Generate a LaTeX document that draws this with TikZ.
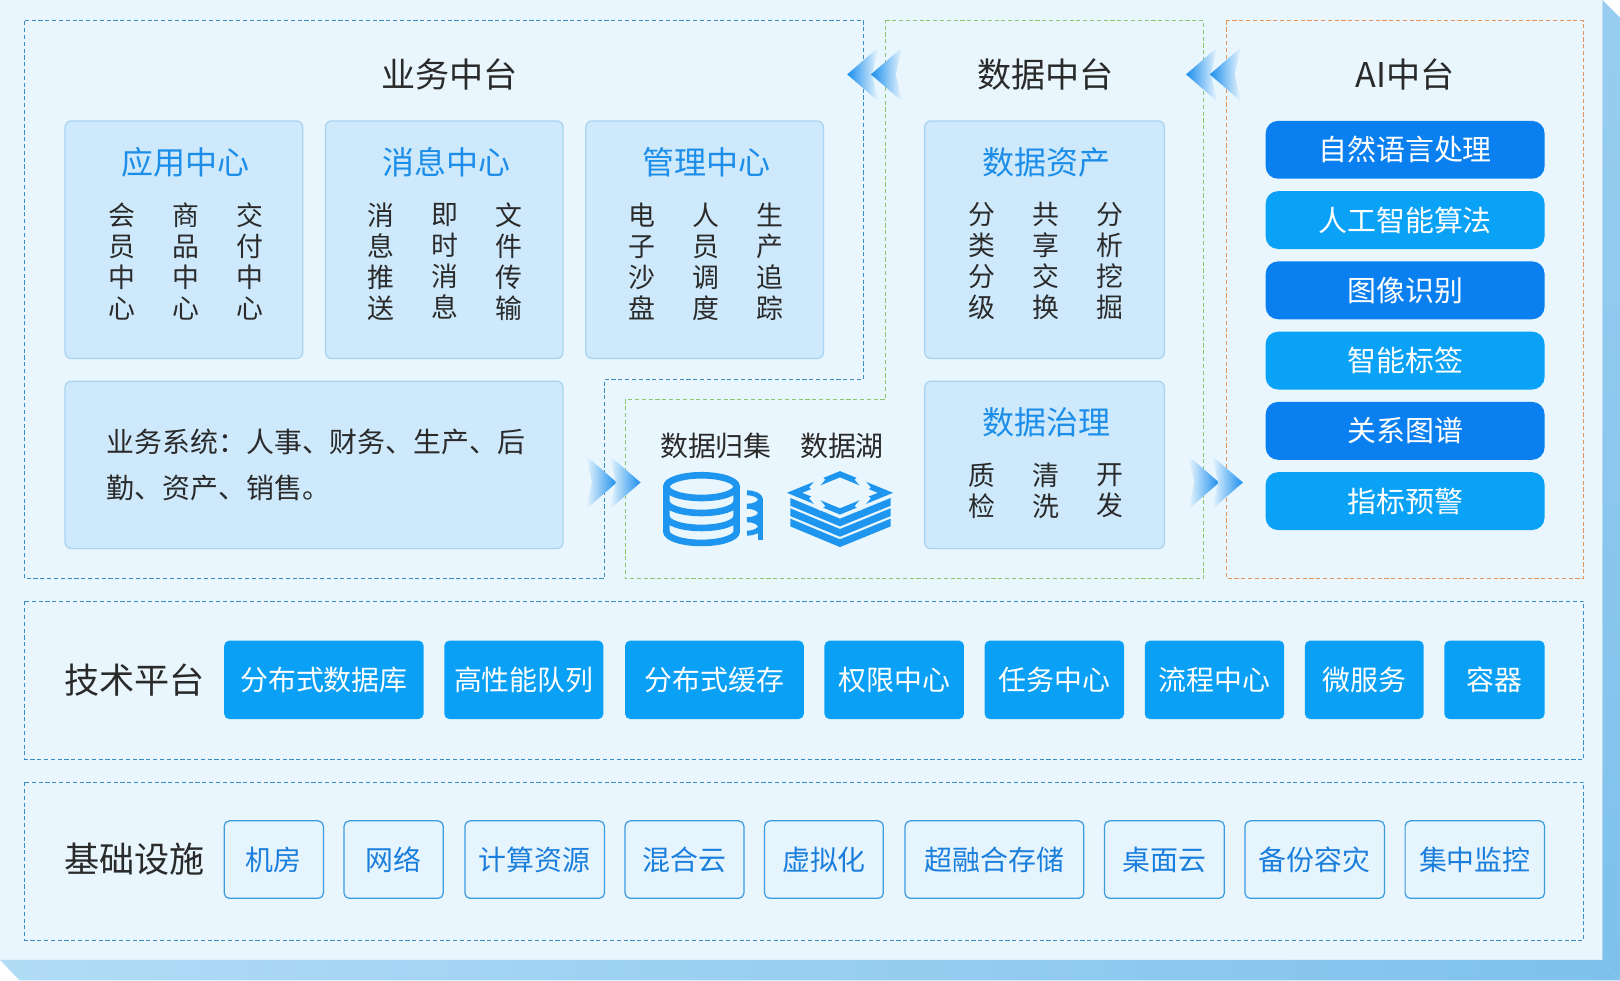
\documentclass[tikz,border=0pt]{standalone}
\usepackage{fontspec}
\setmainfont{Noto Sans CJK SC}
\definecolor{panel}{HTML}{EAF6FD}
\definecolor{subfill}{HTML}{CDE9FB}
\definecolor{subline}{HTML}{A9D3F1}
\definecolor{ttl}{HTML}{1C8EEA}
\definecolor{txt}{HTML}{2A2A2A}
\definecolor{dblue}{HTML}{3C8CC4}
\definecolor{dgreen}{HTML}{8CC66A}
\definecolor{dorange}{HTML}{E3945A}
\definecolor{aiA}{HTML}{0A80F0}
\definecolor{aiB}{HTML}{09A2F6}
\definecolor{tech}{HTML}{09A0F5}
\definecolor{infline}{HTML}{3C9CE0}
\definecolor{inffill}{HTML}{E6F4FE}
\definecolor{inftxt}{HTML}{1A7EDC}
\definecolor{ib}{HTML}{1E96F0}
\definecolor{arr}{HTML}{1A8EEE}
\definecolor{sideR}{HTML}{7EC1EC}
\definecolor{sideB}{HTML}{B2DCF6}
\newcommand\chevL[2]{\shade[left color=arr,right color=panel] (#1,#2) -- (#1+30,#2-26) -- (#1+24,#2) -- (#1+30,#2+26) -- cycle;}
\newcommand\chevR[2]{\shade[right color=arr,left color=panel] (#1,#2) -- (#1-30,#2-26) -- (#1-24,#2) -- (#1-30,#2+26) -- cycle;}
\begin{document}
\begin{tikzpicture}[x=0.5pt,y=-0.5pt,
  sub/.style={draw=subline,fill=subfill,rounded corners=3pt,line width=0.6pt,inner sep=0pt},
  boxtitle/.style={text=ttl,font=\fontsize{15.5}{17}\selectfont,inner sep=0pt},
  col/.style={align=center,text=txt,font=\fontsize{13}{15}\selectfont,inner sep=0pt},
  maintitle/.style={text=txt,font=\fontsize{16.5}{18}\selectfont,inner sep=0pt},
  rowlabel/.style={text=txt,font=\fontsize{17}{18}\selectfont,inner sep=0pt},
  dashline/.style={line width=0.55pt,dash pattern=on 2pt off 1.3pt},
  aibtn/.style={rounded corners=6pt,minimum width=135pt,minimum height=28pt,inner sep=0pt,text=white,font=\fontsize{14}{16}\selectfont},
  techbtn/.style={fill=tech,rounded corners=2.5pt,minimum height=38pt,inner sep=0pt,text=white,font=\fontsize{13.5}{16}\selectfont},
  infbox/.style={draw=infline,fill=inffill,line width=0.6pt,rounded corners=2.5pt,minimum height=37.5pt,inner sep=0pt,text=inftxt,font=\fontsize{13.5}{16}\selectfont},
  lbl/.style={text=txt,font=\fontsize{13.5}{16}\selectfont,inner sep=0pt},
  icon/.style={draw=ib,line width=3.2pt}]
\useasboundingbox (0,0) rectangle (1568,949);
% panel and 3D sides
\fill[white] (0,0) rectangle (1568,949);
\fill[panel] (0,0) rectangle (1551,929);
\shade[top color=sideR!80,bottom color=sideR] (1551,0) -- (1568,17) -- (1568,949) -- (1551,929) -- cycle;
\shade[left color=sideB,right color=sideR] (0,929) -- (1551,929) -- (1568,949) -- (19,949) -- cycle;
% dashed regions
\draw[dashline,dblue] (24,20) -- (836,20) -- (836,367) -- (585,367) -- (585,560) -- (24,560) -- cycle;
\draw[dashline,dgreen] (857,20) -- (1165,20) -- (1165,560) -- (605,560) -- (605,387) -- (857,387) -- cycle;
\draw[dashline,dorange] (1187,20) rectangle (1533,560);
\draw[dashline,dblue] (24,582) rectangle (1533,735);
\draw[dashline,dblue] (24,757) rectangle (1533,910);
% titles
\node[maintitle] (t1) at (435,72) {业务中台};
\node[maintitle] (t2) at (1012,72) {数据中台};
\node[maintitle] (t3) at (1360,72) {AI中台};
% business sub boxes
\node[sub,minimum width=115pt,minimum height=115pt] (app) at (178,232) {};
\node[sub,minimum width=115pt,minimum height=115pt] (msg) at (430,232) {};
\node[sub,minimum width=115pt,minimum height=115pt] (mgt) at (682,232) {};
\node[boxtitle] (appT) at (180,157) {应用中心};
\node[boxtitle] (msgT) at (432,157) {消息中心};
\node[boxtitle] (mgtT) at (684,157) {管理中心};
\node[col] (a1) at (118,253) {会\\员\\中\\心};
\node[col] (a2) at (180,253) {商\\品\\中\\心};
\node[col] (a3) at (242,253) {交\\付\\中\\心};
\node[col] (m1) at (369,253) {消\\息\\推\\送};
\node[col] (m2) at (431,253) {即\\时\\消\\息};
\node[col] (m3) at (493,253) {文\\件\\传\\输};
\node[col] (g1) at (621,253) {电\\子\\沙\\盘};
\node[col] (g2) at (683,253) {人\\员\\调\\度};
\node[col] (g3) at (745,253) {生\\产\\追\\踪};
\node[sub,minimum width=241pt,minimum height=81pt] (biz) at (304,450) {};
\node[anchor=west,align=left,text=txt,font=\fontsize{13.5}{22.5}\selectfont,inner sep=0pt] (bizT) at (103,450) {业务系统：人事、财务、生产、后\\勤、资产、销售。};
% data platform
\node[sub,minimum width=116pt,minimum height=115pt] (ast) at (1011,232) {};
\node[boxtitle] (astT) at (1013,157) {数据资产};
\node[col] (d1) at (950,253) {分\\类\\分\\级};
\node[col] (d2) at (1012,253) {共\\享\\交\\换};
\node[col] (d3) at (1074,253) {分\\析\\挖\\掘};
\node[sub,minimum width=116pt,minimum height=81pt] (gov) at (1011,450) {};
\node[boxtitle] (govT) at (1013,409) {数据治理};
\node[col] (v1) at (950,475) {质\\检};
\node[col] (v2) at (1012,475) {清\\洗};
\node[col] (v3) at (1074,475) {开\\发};
\node[lbl] (coll) at (693,432) {数据归集};
\node[lbl] (lake) at (815,432) {数据湖};
% database icon (line style)
\begin{scope}[shift={(679,493)},x=0.5pt,y=0.5pt]
  \foreach \c in {16,3,-10}{
    \draw[ib,line width=2.4pt] (44,\c) arc[start angle=90,end angle=-90,x radius=13,y radius=6.5];}
  \draw[ib,line width=2.4pt] (57,9.5) -- (57,-30);
  \fill[panel] (-34,22) -- (-34,-21.5) arc[start angle=180,end angle=360,x radius=34,y radius=11] -- (34,22) -- cycle;
  \fill[panel] (0,22) ellipse (34 and 11);
  \draw[icon] (0,22) ellipse (34 and 11);
  \draw[icon] (-34,22) -- (-34,-21.5) arc[start angle=180,end angle=360,x radius=34,y radius=11] -- (34,22);
  \draw[icon] (-34,7.5) arc[start angle=180,end angle=360,x radius=34,y radius=11];
  \draw[icon] (-34,-7) arc[start angle=180,end angle=360,x radius=34,y radius=11];
\end{scope}
% data lake icon
\foreach \k in {0,1,2}{
  \fill[ib] (765,482+10*\k) -- (813,502+10*\k) -- (862,482+10*\k) -- (862,489.5+10*\k) -- (813,509.5+10*\k) -- (765,489.5+10*\k) -- cycle;}
\draw[ib,line width=2.8pt,line join=miter] (813,459) -- (857,477) -- (813,495) -- (769,477) -- cycle;
\draw[panel,line width=3.5pt] (830,462) -- (840,474) (830,492) -- (840,480) (796,462) -- (786,474) (796,492) -- (786,480);
% AI buttons
\node[aibtn,fill=aiA] (ai1) at (1360,145) {自然语言处理};
\node[aibtn,fill=aiB] (ai2) at (1360,213) {人工智能算法};
\node[aibtn,fill=aiA] (ai3) at (1360,281) {图像识别};
\node[aibtn,fill=aiB] (ai4) at (1360,349) {智能标签};
\node[aibtn,fill=aiA] (ai5) at (1360,417) {关系图谱};
\node[aibtn,fill=aiB] (ai6) at (1360,485) {指标预警};
% arrows
\chevL{820}{72}\chevL{843}{72}
\chevL{1148}{72}\chevL{1171}{72}
\chevR{597}{467}\chevR{620}{467}
\chevR{1180}{467}\chevR{1203}{467}
% tech platform
\node[rowlabel] (techL) at (130,658) {技术平台};
\node[techbtn,minimum width=96.5pt] (k1) at (313.5,658) {分布式数据库};
\node[techbtn,minimum width=77pt] (k2) at (507,658) {高性能队列};
\node[techbtn,minimum width=86.5pt] (k3) at (691.5,658) {分布式缓存};
\node[techbtn,minimum width=67.5pt] (k4) at (865.5,658) {权限中心};
\node[techbtn,minimum width=67.5pt] (k5) at (1020.5,658) {任务中心};
\node[techbtn,minimum width=67.5pt] (k6) at (1175.5,658) {流程中心};
\node[techbtn,minimum width=57.5pt] (k7) at (1320.5,658) {微服务};
\node[techbtn,minimum width=48.5pt] (k8) at (1446.5,658) {容器};
% infrastructure
\node[rowlabel] (infL) at (130,832) {基础设施};
\node[infbox,minimum width=48pt] (f1) at (265,832) {机房};
\node[infbox,minimum width=48pt] (f2) at (381,832) {网络};
\node[infbox,minimum width=67.5pt] (f3) at (517.5,832) {计算资源};
\node[infbox,minimum width=57.5pt] (f4) at (662.5,832) {混合云};
\node[infbox,minimum width=57.5pt] (f5) at (797.5,832) {虚拟化};
\node[infbox,minimum width=86.5pt] (f6) at (962.5,832) {超融合存储};
\node[infbox,minimum width=58pt] (f7) at (1127,832) {桌面云};
\node[infbox,minimum width=67.5pt] (f8) at (1272.5,832) {备份容灾};
\node[infbox,minimum width=67.5pt] (f9) at (1427.5,832) {集中监控};
\end{tikzpicture}
\end{document}
